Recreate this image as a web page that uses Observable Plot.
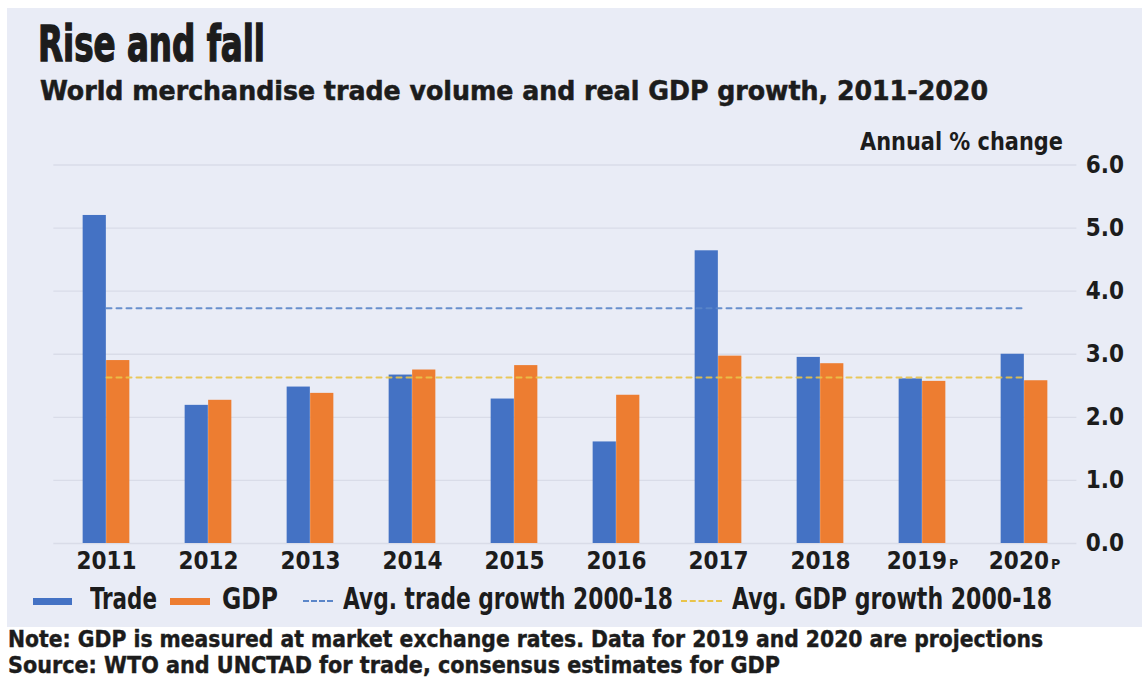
<!DOCTYPE html>
<html>
<head>
<meta charset="utf-8">
<script src="https://cdn.jsdelivr.net/npm/d3@7"></script>
<script src="https://cdn.jsdelivr.net/npm/@observablehq/plot@0.6"></script>
<style>
html, body { margin: 0; padding: 0; background: #ffffff; overflow: hidden; width: 1142px; height: 689px; }
body { position: relative; font-family: "Liberation Sans Narrow", "Arial Narrow", "DejaVu Sans Condensed", sans-serif; font-weight: bold; color: #1c1c1c; }
#panel { position: absolute; left: 7px; top: 8px; width: 1135px; height: 619px; background: #e9ecf6; }
.t { position: absolute; white-space: nowrap; line-height: 1; transform-origin: 0 0; }
#chart { position: absolute; left: 0; top: 130px; }
.sw { position: absolute; }
</style>
</head>
<body>
<div id="panel"></div>
<div id="chart"></div>
<script>
// ---- data ----
const years = ["2011", "2012", "2013", "2014", "2015", "2016", "2017", "2018", "2019P", "2020P"];
const trade = [5.2, 2.19, 2.48, 2.67, 2.29, 1.61, 4.64, 2.95, 2.61, 3.0];
const gdp = [2.9, 2.27, 2.38, 2.75, 2.82, 2.35, 2.97, 2.85, 2.57, 2.58];
const avgTrade = 3.73;
const avgGdp = 2.63;
const yTicks = [0, 1, 2, 3, 4, 5, 6];

const title = "Rise and fall";
const subtitle = "World merchandise trade volume and real GDP growth, 2011-2020";
const unitLabel = "Annual % change";
const legendLabels = ["Trade", "GDP", "Avg. trade growth 2000-18", "Avg. GDP growth 2000-18"];
const note = "Note: GDP is measured at market exchange rates. Data for 2019 and 2020 are projections";
const source = "Source: WTO and UNCTAD for trade, consensus estimates for GDP";

const blue = "#4472c4", orange = "#ed7d31", avgBlue = "#5b86c9", avgYellow = "#e9c44a";

const tradeRows = years.map((y, i) => ({year: y, value: trade[i]}));
const gdpRows = years.map((y, i) => ({year: y, value: gdp[i]}));
const avgTradeRows = [years[0], years[years.length - 1]].map(y => ({year: y, value: avgTrade}));
const avgGdpRows = [years[0], years[years.length - 1]].map(y => ({year: y, value: avgGdp}));

// ---- chart ----
const W = 1142, H = 450, mL = 53.35, mR = 65.65, mT = 34.5, mB = 37;
const bw = (W - mL - mR) / years.length;
const barW = 23.5;
const fontAxis = '"Liberation Sans Narrow", "Arial Narrow", "DejaVu Sans Condensed", sans-serif';

const plot = Plot.plot({
  width: W, height: H,
  marginLeft: mL, marginRight: mR, marginTop: mT, marginBottom: mB,
  style: {background: "transparent", overflow: "visible", fontFamily: fontAxis, color: "#1c1c1c"},
  x: {type: "band", domain: years, padding: 0},
  y: {domain: [0, 6], range: [H - mB, mT]},
  marks: [
    Plot.ruleY(yTicks, {stroke: "#d9dce8", strokeWidth: 1.3}),
    Plot.rectY(tradeRows, {x: "year", y: "value", fill: blue, insetLeft: bw / 2 - barW, insetRight: bw / 2}),
    Plot.rectY(gdpRows, {x: "year", y: "value", fill: orange, insetLeft: bw / 2, insetRight: bw / 2 - barW}),
    Plot.line(avgTradeRows, {x: "year", y: "value", stroke: avgBlue, strokeWidth: 2, strokeDasharray: "5,5", strokeOpacity: 0.9}),
    Plot.line(avgGdpRows, {x: "year", y: "value", stroke: avgYellow, strokeWidth: 2, strokeDasharray: "5,5", strokeOpacity: 0.9}),
    Plot.axisX({anchor: "bottom", tickSize: 0, tickPadding: 8, fontSize: 24, fontWeight: "bold", label: null}),
    Plot.axisY(yTicks, {anchor: "right", tickSize: 0, tickPadding: 9, fontSize: 24, fontWeight: "bold", label: null, tickFormat: d3.format(".1f")})
  ]
});
document.getElementById("chart").appendChild(plot);

// small "P" suffix for projections
plot.querySelectorAll("text").forEach(t => {
  const s = t.textContent;
  if (/^\d{4}P$/.test(s)) {
    t.textContent = s.slice(0, 4);
    const ts = document.createElementNS("http://www.w3.org/2000/svg", "tspan");
    ts.setAttribute("font-size", "14");
    ts.setAttribute("dx", "2");
    ts.textContent = "P";
    t.appendChild(ts);
  }
});

// ---- html text ----
function addText(str, x, capTop, fs, width, anchorRight, stroke) {
  const el = document.createElement("div");
  el.className = "t";
  el.textContent = str;
  el.style.fontSize = fs + "px";
  el.style.top = (capTop - 0.13 * fs) + "px";
  if (stroke) el.style.webkitTextStroke = stroke + "px #1c1c1c";
  document.body.appendChild(el);
  const w = el.getBoundingClientRect().width;
  const k = width / w;
  el.style.transform = `scaleX(${k})`;
  el.style.left = (anchorRight ? x - width : x) + "px";
  return el;
}
addText(title, 38, 26, 49, 227, false, 1.4);
addText(subtitle, 40, 81, 26, 948, false, 0.5);
addText(unitLabel, 1063, 132, 25, 203, true);
addText(legendLabels[0], 90, 588, 30, 67);
addText(legendLabels[1], 222, 588, 30, 56);
addText(legendLabels[2], 343, 588, 30, 330);
addText(legendLabels[3], 732, 588, 30, 320);
addText(note, 8, 631, 23, 1035, false, 0.4);
addText(source, 8, 657, 23, 772, false, 0.4);

// legend swatches
function swatch(x, w, color, dashed) {
  const el = document.createElement("div");
  el.className = "sw";
  el.style.left = x + "px";
  el.style.width = w + "px";
  if (dashed) {
    el.style.top = "600px";
    el.style.height = "0px";
    el.style.borderTop = `2px dashed ${color}`;
  } else {
    el.style.top = "598px";
    el.style.height = "7px";
    el.style.background = color;
  }
  document.body.appendChild(el);
}
swatch(33, 39, blue, false);
swatch(170, 40, orange, false);
swatch(303, 30, avgBlue, true);
swatch(681, 41, avgYellow, true);
</script>
</body>
</html>
